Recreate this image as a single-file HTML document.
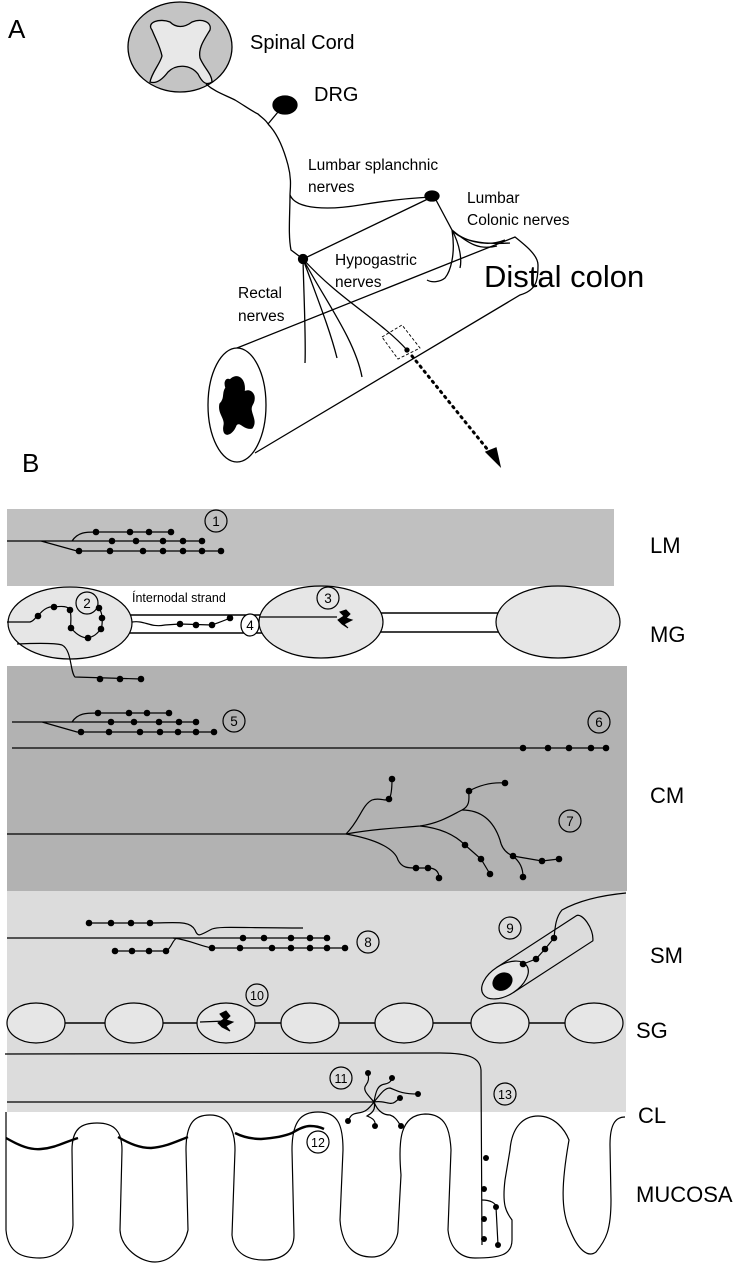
<!DOCTYPE html>
<html><head><meta charset="utf-8"><style>
html,body{margin:0;padding:0;background:#fff}
svg{display:block}
text{font-family:"Liberation Sans",sans-serif;fill:#000}
</style></head><body>
<svg width="752" height="1269" viewBox="0 0 752 1269" xmlns="http://www.w3.org/2000/svg">
<g fill="none" stroke="#000" stroke-width="1.3">
<!-- Panel A -->
<text x="8" y="38" font-size="26" stroke="none">A</text>
<ellipse cx="180" cy="47" rx="52" ry="45" fill="#c4c4c4"/>
<path d="M152,30 C146,22 160,18 170,22 C176,28 184,28 192,22 C202,18 212,22 210,30 C204,40 198,48 200,58 C204,68 212,74 212,82 C206,86 202,82 198,74 C190,64 176,64 168,72 C162,80 156,84 150,82 C152,72 160,64 162,56 C160,46 156,40 152,30 Z" fill="#e8e8e8"/>
<path d="M206,84 C215,92 225,95 235,100 C245,106 250,110 258,114 C262,118 266,120 268,124"/>
<ellipse cx="285" cy="105" rx="12" ry="9" fill="#000"/>
<path d="M268,124 L278,112"/>
<path d="M268,124 C278,134 284,150 288,165 C292,180 290,190 290,195 C290,215 288,235 291,250 L303,259"/>
<path d="M290,195 C296,210 330,210 360,205 C390,200 410,198 432,197"/>
<ellipse cx="432" cy="196" rx="7" ry="5" fill="#000"/>
<path d="M432,197 L303,259"/>
<circle cx="303" cy="259" r="4.5" fill="#000"/>
<path d="M436,200 L452,230 C460,240 480,245 510,243 M452,230 C462,240 485,248 505,240 M452,230 C460,245 462,260 460,268 M452,230 C456,255 450,272 445,278 C440,282 432,283 427,280 M452,230 C470,245 480,250 497,246"/>
<path d="M303,259 C304,300 306,340 305,363 M303,259 C318,300 330,330 337,358 M303,259 C325,300 355,340 362,377 M303,259 C340,300 380,320 407,350"/>
<ellipse cx="237" cy="405" rx="29" ry="57" fill="#fff"/>
<path d="M237,348 L515,237 C525,245 538,255 538,265 C538,280 537,290 520,295 L255,453"/>
<path d="M230,380 C238,372 246,380 244,392 C250,388 258,395 252,405 C248,412 258,420 252,428 C244,430 240,420 236,425 C232,436 222,438 224,426 C226,418 218,414 220,404 C226,398 222,392 226,388 C224,382 226,378 230,380 Z" fill="#000"/>
<path d="M382,337 L402,325 L420,348 L398,359 Z" stroke-dasharray="3,2" stroke-width="0.9"/>
<path d="M412,356 L492,455" stroke-width="3" stroke-dasharray="1.5,5" stroke-linecap="round"/>
<path d="M486,452 L500,466 L496,448 Z" fill="#000"/>
<circle cx="407" cy="350" r="2" fill="#000"/>
</g>
<g stroke="none">
<text x="250" y="49" font-size="20">Spinal Cord</text>
<text x="314" y="101" font-size="20">DRG</text>
<text x="308" y="170" font-size="15.5">Lumbar splanchnic</text>
<text x="308" y="192" font-size="15.5">nerves</text>
<text x="467" y="203" font-size="15.5">Lumbar</text>
<text x="467" y="225" font-size="15.5">Colonic nerves</text>
<text x="335" y="265" font-size="15.5">Hypogastric</text>
<text x="335" y="287" font-size="15.5">nerves</text>
<text x="238" y="298" font-size="15.5">Rectal</text>
<text x="238" y="321" font-size="15.5">nerves</text>
<text x="484" y="287" font-size="31">Distal colon</text>
<text x="22" y="472" font-size="26">B</text>
</g>

<!-- Panel B -->
<rect x="7" y="509" width="607" height="77" fill="#c0c0c0"/>
<rect x="7" y="666" width="620" height="225" fill="#b2b2b2"/>
<rect x="7" y="891" width="619" height="221" fill="#dcdcdc"/>

<g fill="none" stroke="#000" stroke-width="1.2">
<!-- LM -->
<path d="M7,541 L72,541 M41,541 L77,551 L221,551 M72,541 C78,532 86,532 96,532 L171,532 M72,541 L202,541"/>
<circle cx="216" cy="521" r="11" fill="none"/>
<!-- MG -->
<path d="M128,615 L262,615 M128,633 L262,633 M380,613 L500,613 M380,632 L500,632" stroke-width="1.6"/>
<rect x="130" y="616" width="132" height="16" fill="#fff" stroke="none"/>
<rect x="381" y="614" width="118" height="17" fill="#fff" stroke="none"/>
<ellipse cx="70" cy="623" rx="62" ry="36" fill="#e6e6e6"/>
<ellipse cx="321" cy="622" rx="62" ry="36" fill="#e6e6e6"/>
<ellipse cx="558" cy="622" rx="62" ry="36" fill="#e6e6e6"/>
<path d="M7,622 L30,622 C36,620 36,615 38,616 C44,608 50,606 54,607 C62,606 68,606 70,610 C72,618 70,624 71,628 C76,634 82,638 88,638 C96,636 98,632 101,629 C103,624 102,620 102,618 C102,612 100,610 99,608"/>
<path d="M132,622 C145,620 150,628 165,625 L180,624 L212,625 C220,622 226,620 230,618"/>
<path d="M260,617 L337,617"/>
<path d="M340,612 L346,610 L350,614 L346,618 L352,620 L344,624 L348,628 L342,624 L338,620 L344,616 Z" fill="#000" stroke-width="1"/>
<path d="M17,644 C40,643 55,643 62,645 C72,650 70,672 75,677 L141,679"/>
<circle cx="87" cy="603" r="11" fill="#e6e6e6"/>
<circle cx="328" cy="598" r="11" fill="#e6e6e6"/>
<ellipse cx="250" cy="625" rx="9" ry="11" fill="#fff"/>
<!-- CM -->
<path d="M12,722 L72,722 M42,722 L77,732 L214,732 M72,722 C78,713 86,713 98,713 L169,713 M72,722 L196,722"/>
<path d="M12,748 L606,748"/>
<circle cx="234" cy="721" r="11"/>
<circle cx="599" cy="722" r="11"/>
<path d="M7,834 L346,834"/>
<path d="M346,834 C360,820 362,805 372,800 C380,797 385,802 389,799 C392,795 392,785 392,779"/>
<path d="M346,834 C380,828 400,828 420,826 C440,823 452,815 462,810 C472,805 468,795 469,791 C480,785 492,782 505,783"/>
<path d="M462,810 C485,810 495,825 500,840 C502,850 508,854 513,856 L542,861 L559,859 M513,856 C520,862 523,868 523,877"/>
<path d="M420,826 C440,828 455,835 465,845 L481,859 L490,874"/>
<path d="M346,834 C380,840 395,850 398,860 C402,868 408,868 416,868 L428,868 C436,868 439,872 439,878"/>
<circle cx="570" cy="821" r="11"/>
<!-- SM -->
<path d="M7,938 L173,938 L243,938 L327,938"/>
<path d="M89,923 L150,923 C175,923 190,920 195,930 C198,938 200,935 212,929 C220,926 240,928 303,928"/>
<path d="M173,938 C190,940 200,946 212,948 L345,948"/>
<path d="M115,951 L166,951 C172,948 172,940 177,938"/>
<circle cx="368" cy="942" r="11"/>
<!-- vessel -->
<g transform="rotate(-33 505 980)">
<path d="M505,965 L600,965 C606,965 608,985 600,995 L505,995"/>
<ellipse cx="505" cy="980" rx="26" ry="15" fill="#e6e6e6"/>
<ellipse cx="502" cy="980" rx="10" ry="8" fill="#000"/>
</g>
<path d="M626,893 C605,895 580,900 562,910 C555,918 555,930 554,938 L545,949 L536,959 L523,964"/>
<circle cx="510" cy="928" r="11"/>
<!-- SG -->
<path d="M36,1023 L594,1023" stroke-width="1.6"/>
<g fill="#e6e6e6">
<ellipse cx="36" cy="1023" rx="29" ry="20"/><ellipse cx="134" cy="1023" rx="29" ry="20"/><ellipse cx="226" cy="1023" rx="29" ry="20"/><ellipse cx="310" cy="1023" rx="29" ry="20"/><ellipse cx="404" cy="1023" rx="29" ry="20"/><ellipse cx="500" cy="1023" rx="29" ry="20"/><ellipse cx="594" cy="1023" rx="29" ry="20"/>
</g>
<path d="M200,1022 L226,1021"/>
<path d="M220,1014 L226,1011 L230,1016 L226,1020 L233,1022 L226,1026 L230,1031 L222,1027 L218,1023 L224,1019 Z" fill="#000" stroke-width="1"/>
<circle cx="257" cy="995" r="11"/>
<!-- CL / 13 -->
<path d="M5,1054 L440,1053 C470,1053 480,1058 481,1070 L482,1245"/>
<path d="M482,1200 C490,1200 496,1203 496,1207 L498,1245"/>
<circle cx="505" cy="1094" r="11"/>
<path d="M7,1102 L374,1102"/>
<path d="M374,1102 C368,1095 362,1090 366,1085 C370,1080 368,1076 368,1073 M374,1102 C376,1090 378,1085 385,1084 C390,1083 392,1080 392,1078 M374,1102 C380,1095 384,1088 390,1088 C396,1090 400,1094 418,1094 M374,1102 C385,1100 390,1106 395,1102 L400,1098 M374,1102 C368,1110 365,1112 358,1113 C350,1114 350,1118 348,1121 M374,1102 C376,1110 372,1113 367,1116 C372,1118 376,1120 375,1126 M374,1102 C378,1112 384,1115 390,1115 C396,1117 398,1122 401,1126"/>
<circle cx="341" cy="1078" r="11"/>
<!-- mucosa -->
<path d="M6,1112 L6,1230 C8,1255 25,1258 40,1258 C60,1258 72,1240 73,1225 L72,1150 C72,1128 82,1123 97,1123 C115,1123 122,1132 122,1150 L120,1230 C121,1248 140,1262 155,1262 C172,1262 185,1245 188,1230 L186,1150 C186,1122 195,1115 210,1115 C228,1115 235,1130 235,1150 L232,1235 C234,1255 250,1260 264,1260 C284,1260 294,1250 294,1235 L292,1150 C292,1120 302,1112 318,1112 C338,1112 343,1125 343,1150 L340,1220 C342,1250 358,1257 372,1257 C388,1257 398,1240 398,1230 L401,1175 C398,1140 400,1115 425,1114 C446,1114 450,1130 451,1150 L448,1230 C450,1250 462,1258 475,1258 C500,1258 512,1255 512,1240 L512,1220 C506,1212 502,1205 505,1180 L510,1150 C512,1125 525,1116 538,1116 C555,1116 565,1130 569,1140 C562,1180 560,1210 570,1230 C578,1250 588,1258 596,1252 C606,1240 611,1230 611,1200 L610,1145 C610,1125 615,1117 625,1117"/>
<path d="M6,1138 C20,1146 30,1150 41,1149 C55,1148 65,1142 78,1138 M118,1137 C130,1144 140,1148 151,1148 C165,1147 175,1142 188,1137 M235,1133 C245,1138 255,1139 261,1139 C275,1138 285,1136 292,1133 C300,1128 305,1126 310,1126 C318,1126 322,1128 324,1129" stroke-width="2.4"/>
<circle cx="318" cy="1142" r="11" fill="#fff"/>
</g>

<g fill="#000" stroke="none">
<!-- LM dots -->
<circle cx="96" cy="532" r="3.3"/><circle cx="130" cy="532" r="3.3"/><circle cx="149" cy="532" r="3.3"/><circle cx="171" cy="532" r="3.3"/>
<circle cx="112" cy="541" r="3.3"/><circle cx="136" cy="541" r="3.3"/><circle cx="163" cy="541" r="3.3"/><circle cx="183" cy="541" r="3.3"/><circle cx="202" cy="541" r="3.3"/>
<circle cx="79" cy="551" r="3.3"/><circle cx="110" cy="551" r="3.3"/><circle cx="143" cy="551" r="3.3"/><circle cx="163" cy="551" r="3.3"/><circle cx="183" cy="551" r="3.3"/><circle cx="202" cy="551" r="3.3"/><circle cx="221" cy="551" r="3.3"/>
<!-- MG dots -->
<circle cx="38" cy="616" r="3.3"/><circle cx="54" cy="607" r="3.3"/><circle cx="70" cy="610" r="3.3"/><circle cx="71" cy="628" r="3.3"/><circle cx="88" cy="638" r="3.3"/><circle cx="101" cy="629" r="3.3"/><circle cx="102" cy="618" r="3.3"/><circle cx="99" cy="608" r="3.3"/>
<circle cx="180" cy="624" r="3.3"/><circle cx="196" cy="625" r="3.3"/><circle cx="212" cy="625" r="3.3"/><circle cx="230" cy="618" r="3.3"/>
<circle cx="100" cy="679" r="3.3"/><circle cx="120" cy="679" r="3.3"/><circle cx="141" cy="679" r="3.3"/>
<!-- CM dots -->
<circle cx="98" cy="713" r="3.3"/><circle cx="129" cy="713" r="3.3"/><circle cx="147" cy="713" r="3.3"/><circle cx="169" cy="713" r="3.3"/>
<circle cx="111" cy="722" r="3.3"/><circle cx="134" cy="722" r="3.3"/><circle cx="159" cy="722" r="3.3"/><circle cx="179" cy="722" r="3.3"/><circle cx="196" cy="722" r="3.3"/>
<circle cx="81" cy="732" r="3.3"/><circle cx="109" cy="732" r="3.3"/><circle cx="140" cy="732" r="3.3"/><circle cx="160" cy="732" r="3.3"/><circle cx="178" cy="732" r="3.3"/><circle cx="196" cy="732" r="3.3"/><circle cx="214" cy="732" r="3.3"/>
<circle cx="523" cy="748" r="3.3"/><circle cx="548" cy="748" r="3.3"/><circle cx="569" cy="748" r="3.3"/><circle cx="591" cy="748" r="3.3"/><circle cx="606" cy="748" r="3.3"/>
<circle cx="392" cy="779" r="3.3"/><circle cx="389" cy="799" r="3.3"/><circle cx="469" cy="791" r="3.3"/><circle cx="505" cy="783" r="3.3"/>
<circle cx="416" cy="868" r="3.3"/><circle cx="428" cy="868" r="3.3"/><circle cx="439" cy="878" r="3.3"/>
<circle cx="465" cy="845" r="3.3"/><circle cx="481" cy="859" r="3.3"/><circle cx="490" cy="874" r="3.3"/>
<circle cx="513" cy="856" r="3.3"/><circle cx="542" cy="861" r="3.3"/><circle cx="559" cy="859" r="3.3"/><circle cx="523" cy="877" r="3.3"/>
<!-- SM dots -->
<circle cx="89" cy="923" r="3.3"/><circle cx="111" cy="923" r="3.3"/><circle cx="131" cy="923" r="3.3"/><circle cx="150" cy="923" r="3.3"/>
<circle cx="243" cy="938" r="3.3"/><circle cx="264" cy="938" r="3.3"/><circle cx="291" cy="938" r="3.3"/><circle cx="310" cy="938" r="3.3"/><circle cx="327" cy="938" r="3.3"/>
<circle cx="212" cy="948" r="3.3"/><circle cx="240" cy="948" r="3.3"/><circle cx="272" cy="948" r="3.3"/><circle cx="291" cy="948" r="3.3"/><circle cx="310" cy="948" r="3.3"/><circle cx="327" cy="948" r="3.3"/><circle cx="345" cy="948" r="3.3"/>
<circle cx="115" cy="951" r="3.3"/><circle cx="132" cy="951" r="3.3"/><circle cx="149" cy="951" r="3.3"/><circle cx="166" cy="951" r="3.3"/>
<circle cx="554" cy="938" r="3.3"/><circle cx="545" cy="949" r="3.3"/><circle cx="536" cy="959" r="3.3"/><circle cx="523" cy="964" r="3.3"/>
<!-- CL dots -->
<circle cx="368" cy="1073" r="3"/><circle cx="392" cy="1078" r="3"/><circle cx="418" cy="1094" r="3"/><circle cx="400" cy="1098" r="3"/><circle cx="348" cy="1121" r="3"/><circle cx="375" cy="1126" r="3"/><circle cx="401" cy="1126" r="3"/>
<circle cx="486" cy="1158" r="3"/><circle cx="484" cy="1189" r="3"/><circle cx="484" cy="1219" r="3"/><circle cx="484" cy="1239" r="3"/><circle cx="496" cy="1207" r="3"/><circle cx="498" cy="1245" r="3"/>
</g>

<g stroke="none" font-size="13.5" text-anchor="middle">
<text x="216" y="526">1</text><text x="87" y="608">2</text><text x="328" y="603">3</text><text x="250" y="630">4</text>
<text x="234" y="726">5</text><text x="599" y="727">6</text><text x="570" y="826">7</text><text x="368" y="947">8</text>
<text x="510" y="933">9</text><text x="257" y="1000" font-size="12.5">10</text><text x="341" y="1083" font-size="12.5">11</text>
<text x="318" y="1147" font-size="12.5">12</text><text x="505" y="1099" font-size="12.5">13</text>
</g>
<text x="132" y="602" font-size="12.5" stroke="none">Ínternodal strand</text>
<g stroke="none" font-size="22">
<text x="650" y="553">LM</text>
<text x="650" y="642">MG</text>
<text x="650" y="803">CM</text>
<text x="650" y="963">SM</text>
<text x="636" y="1038">SG</text>
<text x="638" y="1123">CL</text>
<text x="636" y="1202">MUCOSA</text>
</g>
</svg>
</body></html>
